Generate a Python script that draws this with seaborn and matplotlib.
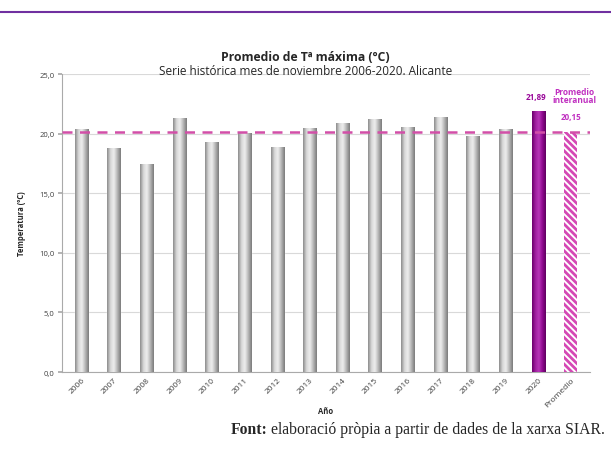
import numpy as np
import pandas as pd
import matplotlib
matplotlib.use("Agg")
import matplotlib.pyplot as plt
import seaborn as sns
from matplotlib.colors import LinearSegmentedColormap
from matplotlib.lines import Line2D

# datos
years = ["2006", "2007", "2008", "2009", "2010", "2011", "2012", "2013",
         "2014", "2015", "2016", "2017", "2018", "2019", "2020", "Promedio"]
tmax = [20.4, 18.8, 17.5, 21.3, 19.3, 20.1, 18.9, 20.5,
        20.9, 21.2, 20.6, 21.4, 19.8, 20.4, 21.89, 20.15]
promedio = 20.15
yticks = [0, 5, 10, 15, 20, 25]

df = pd.DataFrame({"year": years, "tmax": tmax})

sns.set_theme(style="white")
plt.rcParams["font.family"] = ["Open Sans", "DejaVu Sans"]
plt.rcParams["hatch.linewidth"] = 2.0

fig = plt.figure(figsize=(6.11, 4.64), dpi=100)
ax = fig.add_axes([0.101, 0.196, 0.865, 0.642])

sns.barplot(data=df, x="year", y="tmax", hue="year", legend=False,
            palette=["#b0b0b0"] * 14 + ["#8e0a8e", "white"],
            width=0.4, ax=ax, zorder=3)

# degradado tipo cilindro
gray_cm = LinearSegmentedColormap.from_list("g", ["#8a8a8a", "#d8d8d8", "#eeeeee", "#b5b5b5", "#7a7a7a"])
purp_cm = LinearSegmentedColormap.from_list("p", ["#6a006a", "#a020a0", "#b838b8", "#900890", "#5e005e"])
grad = np.linspace(0, 1, 64).reshape(1, -1)
for i, p in enumerate(ax.patches[:16]):
    x0, y0 = p.get_x(), p.get_y()
    w, h = p.get_width(), p.get_height()
    if i < 14:
        cm = gray_cm
    elif i == 14:
        cm = purp_cm
    else:
        p.set_hatch("\\\\\\\\\\")
        p.set_edgecolor("#d548b5")
        p.set_linewidth(0)
        continue
    im = ax.imshow(grad, cmap=cm, aspect="auto", extent=[x0, x0 + w, y0, y0 + h],
                   zorder=3, interpolation="bicubic")
    im.set_clip_path(p)
    p.set_facecolor("none")

ax.set_xlim(-0.6, 15.6)
ax.set_ylim(0, 25)
ax.set_yticks(yticks)
ax.set_yticklabels([f"{v:.1f}".replace(".", ",") for v in yticks], fontsize=5.5, color="#404040")
ax.tick_params(axis="x", labelsize=6, labelcolor="#404040", rotation=45, length=0, pad=3)
ax.tick_params(axis="y", length=3, color="#aaaaaa", left=True, pad=2)
for lbl in ax.get_xticklabels():
    lbl.set_ha("right")
    lbl.set_rotation_mode("anchor")

ax.grid(axis="y", color="#d9d9d9", linewidth=0.8, zorder=0)
for s in ["top", "right"]:
    ax.spines[s].set_visible(False)
ax.spines["left"].set_color("#aaaaaa")
ax.spines["bottom"].set_color("#aaaaaa")
ax.spines["left"].set_linewidth(0.8)
ax.spines["bottom"].set_linewidth(0.8)

ax.axhline(promedio, color="#d24fa8", linestyle=(0, (4, 3)), linewidth=1.8, zorder=4)

ax.set_xlabel("Año", fontsize=5.5, fontweight="bold", labelpad=-2)
ax.set_ylabel("Temperatura (ºC)", fontsize=5.5, fontweight="bold", labelpad=10)

ax.text(13.95, tmax[14] + 0.9, "21,89", ha="center", va="bottom", fontsize=5.8,
        fontweight="bold", color="#9a0a9a")
ax.text(15.12, 22.5, "Promedio\ninteranual", ha="center", va="bottom", fontsize=6,
        fontweight="bold", color="#c030c0", linespacing=0.85)
ax.text(15, 21.1, "20,15", ha="center", va="bottom", fontsize=5.8,
        fontweight="bold", color="#c030c0")

fig.text(0.5, 0.868, "Promedio de Tª máxima (ºC)", ha="center", fontsize=8.8, fontweight="bold")
fig.text(0.5, 0.838, "Serie histórica mes de noviembre 2006-2020. Alicante", ha="center", fontsize=8.5)

fig.add_artist(Line2D([0, 1], [0.971, 0.971], color="#7030a0", linewidth=1.5))

# pie de figura
t1 = fig.text(0.377, 0.065, "Font:", fontsize=11.3, fontweight="bold", family="Liberation Serif")
fig.canvas.draw()
bb = t1.get_window_extent().transformed(fig.transFigure.inverted())
fig.text(bb.x1 + 0.006, 0.065, "elaboració pròpia a partir de dades de la xarxa SIAR.",
         fontsize=11.3, family="Liberation Serif")

fig.savefig("out.png", dpi=100)
